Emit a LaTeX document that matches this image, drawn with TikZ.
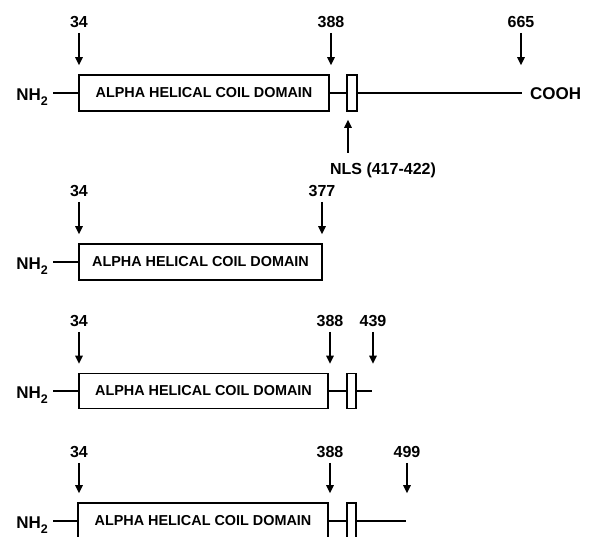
\documentclass[tikz,border=0pt]{standalone}
\usepackage{fontspec}
\setmainfont{Liberation Sans}
\usetikzlibrary{positioning, arrows.meta, calc}

\newcommand{\nhtwo}{NH\raisebox{-5.5pt}{\fontsize{12.5}{13}\selectfont 2}}

\tikzset{
  coildom/.style={draw, line width=1.7pt, minimum height=36pt, inner sep=0pt,
    font=\fontsize{14.4}{16}\selectfont\bfseries},
  nlsbox/.style={draw, line width=1.7pt, minimum width=10pt, minimum height=36pt, inner sep=0pt},
  term/.style={font=\fontsize{17}{20}\selectfont\bfseries, inner sep=0pt},
  posn/.style={font=\fontsize{16}{18}\selectfont\bfseries, inner sep=0pt},
  site/.style={-{Triangle[length=8pt,width=7.5pt]}, line width=1.5pt, shorten <=5pt, shorten >=9pt},
  chain/.style={line width=1.7pt}
}

\begin{document}
\begin{tikzpicture}[x=1pt, y=-1pt]
    \useasboundingbox (0,0) rectangle (589,536);
    \clip (0,0) rectangle (589,536);

    % Full length protein
    \node[coildom, minimum width=250pt] (dom1) at (204,93) {ALPHA HELICAL COIL DOMAIN};
    \node[nlsbox] (nls1) at (352,93) {};
    \node[term, anchor=base east] (nh1) at (48,100) {\nhtwo};
    \node[term, anchor=base west] (cooh) at (530,99.5) {COOH};
    \draw[chain, shorten <=5pt] (nh1.east |- dom1.west) -- (dom1.west);
    \draw[chain] (dom1.east) -- (nls1.west);
    \draw[chain, shorten >=8pt] (nls1.east) -- (cooh.west |- nls1.east);
    \node[posn] (p34a) at (79,22) {34};
    \node[posn] (p388a) at (331,22) {388};
    \node[posn] (p665) at (521,22) {665};
    \draw[site] (p34a.south) -- (p34a |- dom1.north);
    \draw[site] (p388a.south) -- (p388a |- dom1.north);
    \draw[site] (p665.south) -- (p665 |- dom1.north);
    \node[posn] (nlslab) at (383,170) {NLS (417-422)};
    \draw[site, shorten <=9.5pt, shorten >=8pt] ([xshift=-4pt]nlslab.north -| nls1.south) -- ([xshift=-4pt]nls1.south);

    % Truncation at 377
    \node[coildom, minimum width=243pt] (dom2) at (200.5,262) {ALPHA HELICAL COIL DOMAIN};
    \node[term, anchor=base east] (nh2) at (48,269) {\nhtwo};
    \draw[chain, shorten <=5pt] (nh2.east |- dom2.west) -- (dom2.west);
    \node[posn] (p34b) at (79,191) {34};
    \node[posn] (p377) at (322,191) {377};
    \draw[site] (p34b.south) -- (p34b |- dom2.north);
    \draw[site] (p377.south) -- (p377 |- dom2.north);

    % Truncation at 439
    \node[coildom, minimum width=249pt, minimum height=35pt] (dom3) at (203.5,391) {ALPHA HELICAL COIL DOMAIN};
    \node[nlsbox, minimum width=9pt, minimum height=35pt] (nls3) at (351.5,391) {};
    \node[term, anchor=base east] (nh3) at (48,398) {\nhtwo};
    \coordinate (end3) at (372,391);
    \draw[chain, shorten <=5pt] (nh3.east |- dom3.west) -- (dom3.west);
    \draw[chain] (dom3.east) -- (nls3.west);
    \draw[chain] (nls3.east) -- (end3);
    \node[posn] (p34c) at (79,321) {34};
    \node[posn] (p388c) at (330,321) {388};
    \node[posn] (p439) at (373,321) {439};
    \draw[site] (p34c.south) -- (p34c |- dom3.north);
    \draw[site] (p388c.south) -- (p388c |- dom3.north);
    \draw[site] (p439.south) -- (p439 |- dom3.north);

    % Truncation at 499
    \node[coildom, minimum width=250pt] (dom4) at (203,521) {ALPHA HELICAL COIL DOMAIN};
    \node[nlsbox, minimum width=9pt] (nls4) at (351.5,521) {};
    \node[term, anchor=base east] (nh4) at (48,528) {\nhtwo};
    \coordinate (end4) at (406,521);
    \draw[chain, shorten <=5pt] (nh4.east |- dom4.west) -- (dom4.west);
    \draw[chain] (dom4.east) -- (nls4.west);
    \draw[chain] (nls4.east) -- (end4);
    \node[posn] (p34d) at (79,452) {34};
    \node[posn] (p388d) at (330,452) {388};
    \node[posn] (p499) at (407,452) {499};
    \draw[site] (p34d.south) -- (p34d |- dom4.north);
    \draw[site] (p388d.south) -- (p388d |- dom4.north);
    \draw[site] (p499.south) -- (p499 |- dom4.north);
\end{tikzpicture}
\end{document}
